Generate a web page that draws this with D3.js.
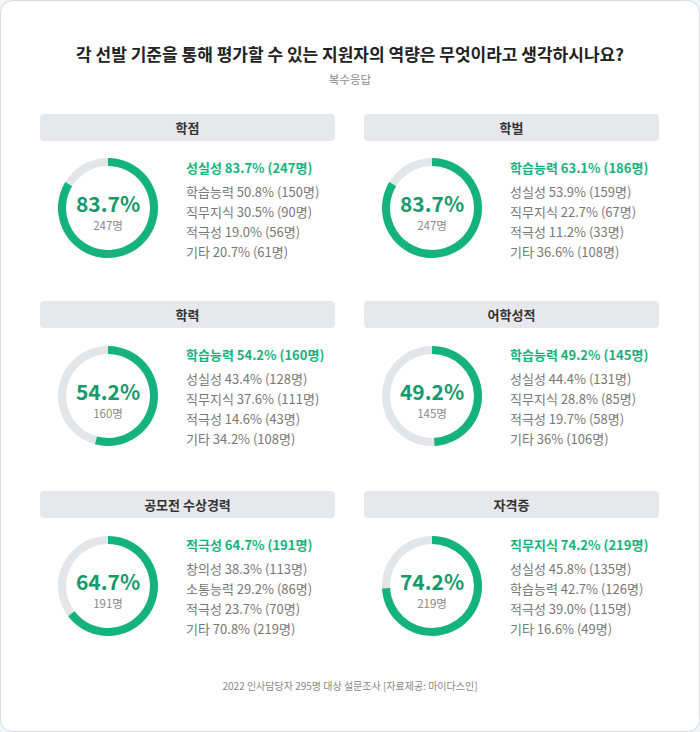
<!DOCTYPE html><html><head><meta charset="utf-8"><script src="https://cdn.jsdelivr.net/npm/d3@7"></script>
<style>body{margin:0;background:#f3f4f6;font-family:"Noto Sans CJK KR","Noto Sans",sans-serif}</style></head><body><svg id="c" width="700" height="732"></svg>
<script>
const titles=["학점","학벌","학력","어학성적","공모전 수상경력","자격증"];
const ringValues=[83.7,83.7,54.2,49.2,64.7,74.2];
const ringCounts=["247명","247명","160명","145명","191명","219명"];
const topLines=["성실성 83.7% (247명)","학습능력 63.1% (186명)","학습능력 54.2% (160명)","학습능력 49.2% (145명)","적극성 64.7% (191명)","직무지식 74.2% (219명)"];
const otherLines=[
["학습능력 50.8% (150명)","직무지식 30.5% (90명)","적극성 19.0% (56명)","기타 20.7% (61명)"],
["성실성 53.9% (159명)","직무지식 22.7% (67명)","적극성 11.2% (33명)","기타 36.6% (108명)"],
["성실성 43.4% (128명)","직무지식 37.6% (111명)","적극성 14.6% (43명)","기타 34.2% (108명)"],
["성실성 44.4% (131명)","직무지식 28.8% (85명)","적극성 19.7% (58명)","기타 36% (106명)"],
["창의성 38.3% (113명)","소통능력 29.2% (86명)","적극성 23.7% (70명)","기타 70.8% (219명)"],
["성실성 45.8% (135명)","학습능력 42.7% (126명)","적극성 39.0% (115명)","기타 16.6% (49명)"]];
const svg=d3.select("#c");
const G="#14b37d";
svg.append("rect").attr("x",0.5).attr("y",0.5).attr("width",699).attr("height",731).attr("rx",12).attr("fill","#fff").attr("stroke","#d9dbe0");
svg.append("text").attr("x",350).attr("y",61).attr("text-anchor","middle").attr("font-size",17).attr("font-weight",700).attr("fill","#222").text("각 선발 기준을 통해 평가할 수 있는 지원자의 역량은 무엇이라고 생각하시나요?");
svg.append("text").attr("x",350).attr("y",84).attr("text-anchor","middle").attr("font-size",11.5).attr("fill","#888").text("복수응답");
svg.append("text").attr("x",350).attr("y",690).attr("text-anchor","middle").attr("font-size",10).attr("fill","#888").text("2022 인사담당자 295명 대상 설문조사 [자료제공: 마이다스인]");
const rowY=[114,301,491], colX=[40,364];
const arc=d3.arc().innerRadius(42).outerRadius(50);
const ang=d3.scaleLinear().domain([0,100]).range([0,2*Math.PI]);
titles.forEach((t,i)=>{
 const x0=colX[i%2], y0=rowY[Math.floor(i/2)];
 const g=svg.append("g").attr("transform",`translate(${x0},${y0})`);
 g.append("rect").attr("width",295).attr("height",27).attr("rx",4).attr("fill","#e6e8eb");
 g.append("text").attr("x",147.5).attr("y",18.5).attr("text-anchor","middle").attr("font-size",13).attr("font-weight",700).attr("fill","#333").text(t);
 const r=g.append("g").attr("transform",`translate(68,${y0===114?94:95})`);
 r.append("path").attr("d",arc({startAngle:0,endAngle:2*Math.PI})).attr("fill","#e3e5e8");
 r.append("path").attr("d",arc({startAngle:0,endAngle:ang(ringValues[i])})).attr("fill",G);
 r.append("text").attr("y",4).attr("text-anchor","middle").attr("font-size",21).attr("font-weight",700).attr("fill","#149a6c").text(ringValues[i]+"%");
 r.append("text").attr("y",22).attr("text-anchor","middle").attr("font-size",11.5).attr("fill","#888").text(ringCounts[i]);
 const tx=146;
 g.append("text").attr("x",tx).attr("y",59).attr("font-size",13).attr("font-weight",700).attr("fill",G).text(topLines[i]);
 otherLines[i].forEach((s,k)=>g.append("text").attr("x",tx).attr("y",83+k*20).attr("font-size",13).attr("fill","#777").text(s));
});
</script></body></html>
